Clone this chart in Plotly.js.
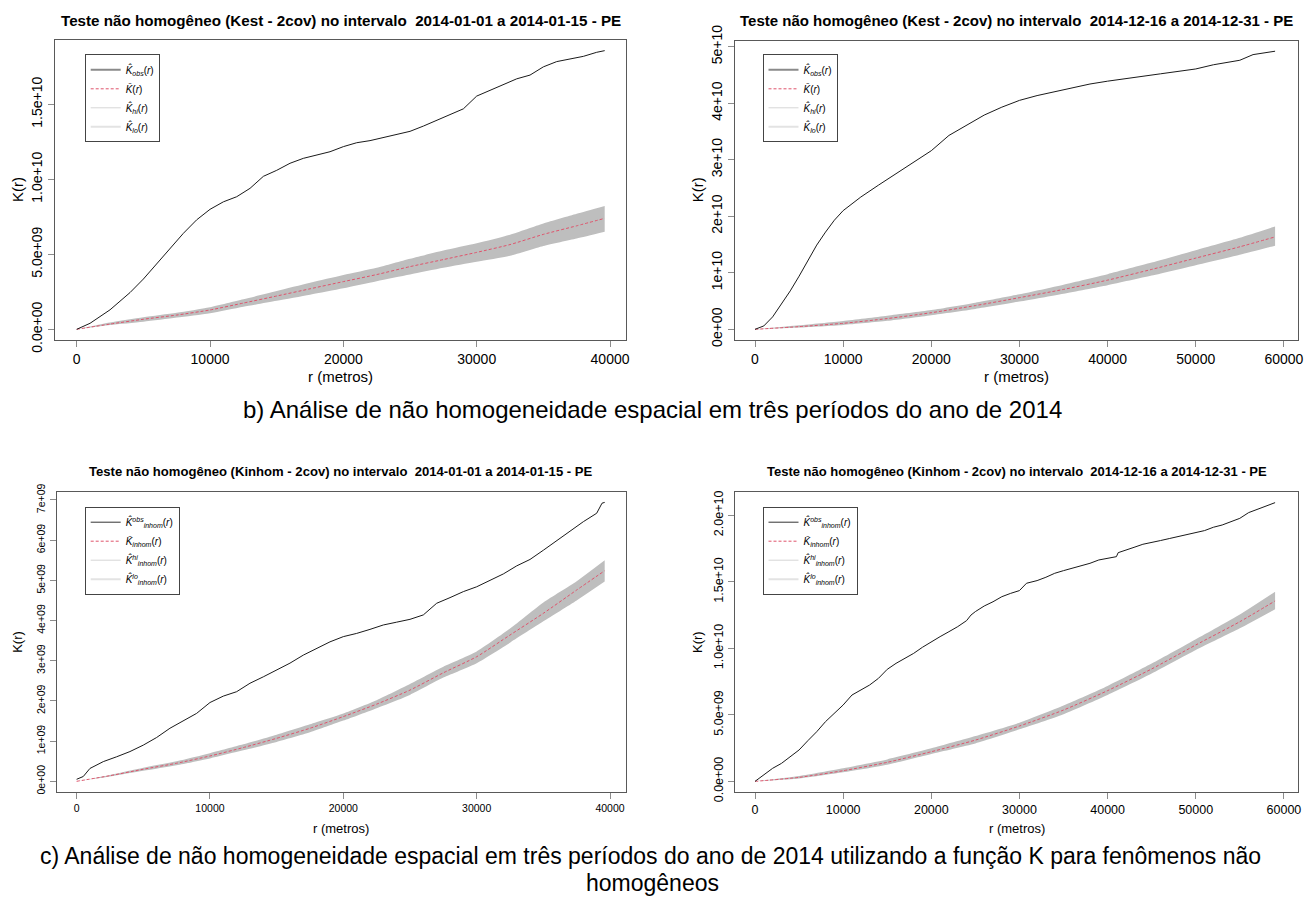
<!DOCTYPE html>
<html><head><meta charset="utf-8">
<script src="https://cdn.plot.ly/plotly-3.0.1.min.js"></script>
<style>html,body{margin:0;padding:0;background:#fff}#chart{width:1305px;height:897px}</style>
</head><body><div id="chart"></div>
<script>
// ---- Panel 1: Kest, 2014-01-01 a 2014-01-15 (K values in units of 1e9) ----
const p1_r_obs = [0,1000,2500,4000,5000,6000,7000,8000,9000,10000,11000,12000,13000,14000,15000,16000,17000,18000,19000,20000,21000,22000,23000,24000,25000,26000,27000,28000,29000,30000,31000,32000,33000,34000,35000,36000,37000,38000,39000,39600];
const p1_obs   = [0,0.4,1.3,2.45,3.35,4.35,5.4,6.4,7.3,8.0,8.5,8.84,9.4,10.2,10.6,11.07,11.4,11.6,11.84,12.18,12.44,12.58,12.8,13.0,13.2,13.55,13.95,14.3,14.7,15.55,15.95,16.3,16.7,16.95,17.5,17.85,18.0,18.2,18.47,18.58];
const p1_r_env = [0,2500,5000,7500,10000,12500,15000,17500,20000,22500,25000,27500,30000,32500,35000,37500,39600];
const p1_theo  = [0,0.35,0.67,0.95,1.29,1.75,2.22,2.7,3.18,3.65,4.18,4.65,5.13,5.65,6.33,6.9,7.4];
const p1_hi    = [0,0.45,0.8,1.1,1.47,2.0,2.55,3.1,3.62,4.1,4.7,5.25,5.73,6.3,7.05,7.7,8.22];
const p1_lo    = [0,0.28,0.5,0.78,1.07,1.5,1.9,2.3,2.73,3.2,3.65,4.1,4.5,4.9,5.55,6.05,6.5];

// ---- Panel 2: Kest, 2014-12-16 a 2014-12-31 ----
const p2_r_obs = [0,1000,2000,3000,4000,5000,6000,7000,8000,9000,10000,12000,14000,16000,18000,20000,22000,24000,26000,28000,30000,32000,35000,38000,40000,43000,46000,50000,52000,55000,56500,59000];
const p2_obs   = [0,0.6,2.2,4.4,6.8,9.4,12.2,14.9,17.2,19.3,21.0,23.4,25.5,27.5,29.6,31.6,34.3,36.06,37.9,39.3,40.5,41.35,42.35,43.4,43.9,44.5,45.2,46.06,46.8,47.6,48.6,49.2];
const p2_r_env = [0,5000,10000,15000,20000,25000,30000,35000,40000,45000,50000,55000,59000];
const p2_theo  = [0,0.47,1.06,1.9,2.94,4.2,5.6,7.06,8.7,10.6,12.6,14.6,16.35];
const p2_hi    = [0,0.7,1.47,2.4,3.4,4.7,6.2,7.9,9.76,11.8,14.0,16.2,18.2];
const p2_lo    = [0,0.3,0.76,1.5,2.5,3.6,4.9,6.3,7.8,9.5,11.35,13.2,14.8];

// ---- Panel 3: Kinhom, 2014-01-01 a 2014-01-15 ----
const p3_r_obs = [0,500,1000,2000,3000,4000,5000,6000,7000,8000,9000,10000,11000,12000,13000,14000,15000,16000,17000,18000,19000,20000,21000,22000,23000,24000,25000,26000,27000,28000,29000,30000,31000,32000,33000,34000,35000,36000,37000,38000,39000,39400,39600];
const p3_obs   = [0.05,0.12,0.32,0.49,0.61,0.74,0.9,1.09,1.32,1.51,1.69,1.96,2.12,2.23,2.44,2.6,2.77,2.94,3.14,3.31,3.47,3.6,3.68,3.78,3.89,3.96,4.03,4.14,4.43,4.57,4.72,4.84,4.99,5.16,5.36,5.52,5.75,5.99,6.21,6.46,6.67,6.92,6.94];
const p3_r_env = [0,2500,5000,7500,10000,12500,15000,17500,20000,22500,25000,27500,30000,32500,35000,37500,39600];
const p3_theo  = [0,0.14,0.3,0.45,0.63,0.84,1.07,1.32,1.61,1.92,2.27,2.7,3.1,3.64,4.18,4.76,5.24];
const p3_hi    = [0,0.16,0.34,0.5,0.7,0.92,1.16,1.42,1.69,2.02,2.42,2.85,3.23,3.8,4.45,4.98,5.5];
const p3_lo    = [0,0.12,0.26,0.4,0.57,0.77,0.98,1.22,1.51,1.82,2.15,2.58,2.94,3.45,3.98,4.5,4.97];

// ---- Panel 4: Kinhom, 2014-12-16 a 2014-12-31 ----
const p4_r_obs = [0,1000,2000,3000,4000,5000,6000,7000,8000,9000,10000,11000,12000,13000,14000,15000,16000,17000,18000,19000,20000,21000,22000,23000,24000,24500,25000,26000,27000,28000,29000,30000,30800,32000,33000,34000,35000,36000,37000,38000,39000,40000,41000,41200,42000,43000,44000,45000,46000,47000,48000,49000,50000,51000,52000,53000,54000,55000,56000,57000,58000,59000];
const p4_obs   = [0,0.48,0.98,1.35,1.85,2.36,3.06,3.73,4.49,5.11,5.74,6.49,6.87,7.24,7.74,8.42,8.87,9.25,9.62,10.08,10.5,10.88,11.25,11.63,12.08,12.5,12.76,13.18,13.5,13.88,14.13,14.34,14.89,15.09,15.34,15.64,15.84,16.01,16.19,16.39,16.64,16.77,16.89,17.19,17.39,17.59,17.82,17.94,18.1,18.25,18.4,18.57,18.7,18.85,19.1,19.27,19.52,19.77,20.2,20.45,20.7,20.95];
const p4_r_env = [0,5000,10000,15000,20000,25000,30000,35000,40000,45000,50000,55000,59000];
const p4_theo  = [0,0.3,0.8,1.43,2.23,3.1,4.16,5.36,6.82,8.45,10.25,12.0,13.56];
const p4_hi    = [0,0.4,0.98,1.65,2.48,3.4,4.41,5.7,7.17,8.85,10.68,12.55,14.26];
const p4_lo    = [0,0.22,0.68,1.25,2.06,2.85,3.91,5.05,6.49,8.1,9.87,11.5,12.93];

// ---- Tick labels ----
const x_ticks_40 = [0,10000,20000,30000,40000];
const x_ticks_60 = [0,10000,20000,30000,40000,50000,60000];
const p1_yticks = [0,5e9,1e10,1.5e10];
const p1_ylabels = ["0.0e+00","5.0e+09","1.0e+10","1.5e+10"];
const p2_yticks = [0,1e10,2e10,3e10,4e10,5e10];
const p2_ylabels = ["0e+00","1e+10","2e+10","3e+10","4e+10","5e+10"];
const p3_yticks = [0,1e9,2e9,3e9,4e9,5e9,6e9,7e9];
const p3_ylabels = ["0e+00","1e+09","2e+09","3e+09","4e+09","5e+09","6e+09","7e+09"];
const p4_yticks = [0,5e9,1e10,1.5e10,2e10];
const p4_ylabels = ["0.0e+00","5.0e+09","1.0e+10","1.5e+10","2.0e+10"];

const titles = [
  "Teste não homogêneo (Kest - 2cov) no intervalo  2014-01-01 a 2014-01-15 - PE",
  "Teste não homogêneo (Kest - 2cov) no intervalo  2014-12-16 a 2014-12-31 - PE",
  "Teste não homogêneo (Kinhom - 2cov) no intervalo  2014-01-01 a 2014-01-15 - PE",
  "Teste não homogêneo (Kinhom - 2cov) no intervalo  2014-12-16 a 2014-12-31 - PE"
];
const caption_b = "b) Análise de não homogeneidade espacial em três períodos do ano de 2014";
const caption_c1 = "c) Análise de não homogeneidade espacial em três períodos do ano de 2014 utilizando a função K para fenômenos não";
const caption_c2 = "homogêneos";

const legendKest = ["<i>K̂</i><sub><i>obs</i></sub>(<i>r</i>)", "<i>K̄</i>(<i>r</i>)", "<i>K̂</i><sub><i>hi</i></sub>(<i>r</i>)", "<i>K̂</i><sub><i>lo</i></sub>(<i>r</i>)"];
const legendKinhom = ["<i>K̂</i><sup><i>obs</i></sup><sub><i>inhom</i></sub>(<i>r</i>)", "<i>K̄</i><sub><i>inhom</i></sub>(<i>r</i>)", "<i>K̂</i><sup><i>hi</i></sup><sub><i>inhom</i></sub>(<i>r</i>)", "<i>K̂</i><sup><i>lo</i></sup><sub><i>inhom</i></sub>(<i>r</i>)"];

const W = 1305, H = 897;
const FONT = "Liberation Sans, Arial, sans-serif";
const E9 = v => v.map(k => k * 1e9);

const panels = [
  {rObs:p1_r_obs, obs:p1_obs, rEnv:p1_r_env, theo:p1_theo, hi:p1_hi, lo:p1_lo, box:[55,626,40,340], xr:[-1628,41198], yr:[-0.713e9,19.29e9], xt:x_ticks_40, yt:p1_yticks, yl:p1_ylabels, tf:14, af:15, tt:15.2, leg:legendKest, lx:84.7, ly:54.3, obsLeg:{color:'#8a8a8a',width:2}},
  {rObs:p2_r_obs, obs:p2_obs, rEnv:p2_r_env, theo:p2_theo, hi:p2_hi, lo:p2_lo, box:[735,1298,40.7,340], xr:[-2269,61600], yr:[-0.189e10,5.106e10], xt:x_ticks_60, yt:p2_yticks, yl:p2_ylabels, tf:14, af:15, tt:15, leg:legendKest, lx:762.5, ly:54.3, obsLeg:{color:'#8a8a8a',width:2}},
  {rObs:p3_r_obs, obs:p3_obs, rEnv:p3_r_env, theo:p3_theo, hi:p3_hi, lo:p3_lo, box:[56.6,626,491.7,792], xr:[-1500,41198], yr:[-0.266e9,7.206e9], xt:x_ticks_40, yt:p3_yticks, yl:p3_ylabels, tf:10.5, af:13, tt:13.1, leg:legendKinhom, lx:84.7, ly:506.7, obsLeg:{color:'#333',width:1}},
  {rObs:p4_r_obs, obs:p4_obs, rEnv:p4_r_env, theo:p4_theo, hi:p4_hi, lo:p4_lo, box:[735,1298,492,792], xr:[-2269,61600], yr:[-0.08e10,2.175e10], xt:x_ticks_60, yt:p4_yticks, yl:p4_ylabels, tf:12.5, af:13, tt:13, leg:legendKinhom, lx:762.5, ly:506.7, obsLeg:{color:'#333',width:1}}
];

const traces = [];
const layout = {
  width: W, height: H, margin:{l:0,r:0,t:0,b:0},
  paper_bgcolor:'#fff', plot_bgcolor:'#fff',
  font:{family:FONT, color:'#000'},
  showlegend:true, annotations:[]
};

panels.forEach((p, i) => {
  const n = i + 1;
  const xa = n === 1 ? 'x' : 'x' + n, ya = n === 1 ? 'y' : 'y' + n;
  const lg = n === 1 ? 'legend' : 'legend' + n;
  // envelope band
  traces.push({x:p.rEnv, y:E9(p.hi), xaxis:xa, yaxis:ya, mode:'lines', line:{width:0, color:'#bebebe', shape:'spline', smoothing:0.6}, showlegend:false, hoverinfo:'skip'});
  traces.push({x:p.rEnv, y:E9(p.lo), xaxis:xa, yaxis:ya, mode:'lines', fill:'tonexty', fillcolor:'#bebebe', line:{width:0, color:'#bebebe', shape:'spline', smoothing:0.6}, showlegend:false, hoverinfo:'skip'});
  // theoretical
  traces.push({x:p.rEnv, y:E9(p.theo), xaxis:xa, yaxis:ya, mode:'lines', line:{color:'#df536b', width:1, dash:'3px,2px', shape:'spline', smoothing:0.6}, showlegend:false});
  // observed
  traces.push({x:p.rObs, y:E9(p.obs), xaxis:xa, yaxis:ya, mode:'lines', line:{color:'#1a1a1a', width:1}, showlegend:false});
  // legend entries
  const legStyles = [p.obsLeg, {color:'#df536b', width:1, dash:'3px,2px'}, {color:'#d6d6d6', width:1}, {color:'#e3e3e3', width:2}];
  p.leg.forEach((name, k) => {
    traces.push({x:[null], y:[null], xaxis:xa, yaxis:ya, mode:'lines', name:name, line:legStyles[k], legend:lg, showlegend:true});
  });

  const [x0, x1, y0, y1] = p.box;
  const axCommon = {showgrid:false, zeroline:false, showline:true, mirror:true, linecolor:'#595959', linewidth:1,
    ticks:'outside', ticklen:6, tickcolor:'#8c8c8c', tickwidth:1, tickfont:{size:p.tf, family:FONT, color:'#000'}, fixedrange:true};
  layout['xaxis' + (n===1?'':n)] = Object.assign({}, axCommon, {domain:[x0/W, x1/W], range:p.xr, anchor:ya, tickmode:'array', tickvals:p.xt, ticktext:p.xt.map(String)});
  layout['yaxis' + (n===1?'':n)] = Object.assign({}, axCommon, {domain:[1-y1/H, 1-y0/H], range:p.yr, anchor:xa, tickmode:'array', tickvals:p.yt, ticktext:p.yl, tickangle:-90});
  layout[lg] = {x:p.lx/W, y:1-p.ly/H, xanchor:'left', yanchor:'top', bordercolor:'#444', borderwidth:1, bgcolor:'#fff',
    font:{size:10, family:FONT, color:'#000'}, tracegroupgap:0, itemwidth:30, traceorder:'normal'};

  // titles
  const cx = (x0 + x1) / 2 / W;
  layout.annotations.push({text:'<b>' + titles[i] + '</b>', xref:'paper', yref:'paper', x:cx, y:1-(n<=2?20:472)/H, xanchor:'center', yanchor:'middle', showarrow:false, font:{size:p.tt, family:FONT}});
  layout.annotations.push({text:'r (metros)', xref:'paper', yref:'paper', x:cx, y:1-(n<=2?376:828)/H, xanchor:'center', yanchor:'middle', showarrow:false, font:{size:p.af, family:FONT}});
  layout.annotations.push({text:'K(r)', xref:'paper', yref:'paper', x:(n%2===1?18:697)/W, y:1-((y0+y1)/2)/H, xanchor:'center', yanchor:'middle', textangle:-90, showarrow:false, font:{size:p.af, family:FONT}});
});

layout.annotations.push({text:caption_b, xref:'paper', yref:'paper', x:652/W, y:1-409/H, xanchor:'center', yanchor:'middle', showarrow:false, font:{size:24, family:FONT}});
layout.annotations.push({text:caption_c1, xref:'paper', yref:'paper', x:650/W, y:1-856/H, xanchor:'center', yanchor:'middle', showarrow:false, font:{size:23, family:FONT}});
layout.annotations.push({text:caption_c2, xref:'paper', yref:'paper', x:652/W, y:1-883/H, xanchor:'center', yanchor:'middle', showarrow:false, font:{size:23, family:FONT}});

Plotly.newPlot('chart', traces, layout, {displayModeBar:false, staticPlot:true});
</script></body></html>
